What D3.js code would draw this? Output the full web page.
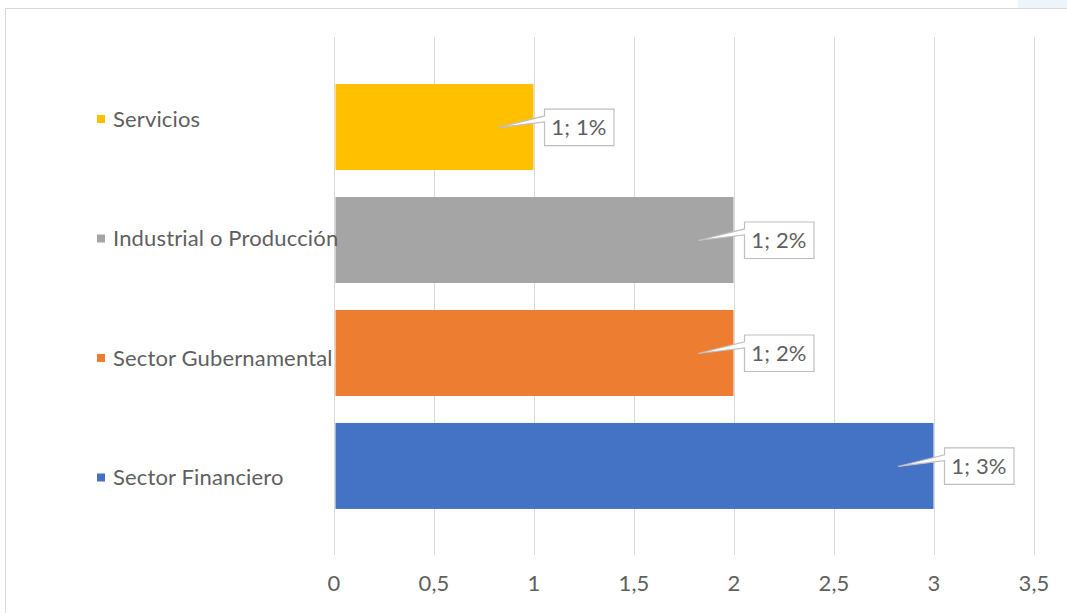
<!DOCTYPE html>
<html>
<head>
<meta charset="utf-8">
<script src="https://cdn.jsdelivr.net/npm/d3@7"></script>
<style>
  body { margin: 0; background: #fff; }
  text { font-family: Lato, "Open Sans", sans-serif; fill: #5f5f5f; letter-spacing: 0.15px; }
</style>
</head>
<body>
<div id="chart"></div>
<script>
// data, top to bottom
var categories = ["Servicios", "Industrial o Producción", "Sector Gubernamental", "Sector Financiero"];
var values = [1, 2, 2, 3];
var labelTexts = ["1; 1%", "1; 2%", "1; 2%", "1; 3%"];
var colors = ["#FFC000", "#A5A5A5", "#ED7D31", "#4472C4"];
var tickValues = [0, 0.5, 1, 1.5, 2, 2.5, 3, 3.5];

var width = 1067, height = 613;
var fontSize = "22px";

var svg = d3.select("#chart").append("svg")
  .attr("width", width)
  .attr("height", height);

// chart frame
svg.append("rect")
  .attr("x", 5.5).attr("y", 8.5)
  .attr("width", 1080).attr("height", 620)
  .attr("fill", "#fff")
  .attr("stroke", "#d9d9d9");
svg.append("rect")
  .attr("x", 1018).attr("y", 0)
  .attr("width", 49).attr("height", 8)
  .attr("fill", "#eef4fb");

var x = d3.scaleLinear().domain([0, 3.5]).range([334, 1034]);
var y = d3.scaleBand().domain(categories)
  .range([70.5, 522.5])
  .paddingInner(0.239)
  .paddingOuter(0.12);
// legend has its own spacing
var yLegend = d3.scalePoint().domain(categories).range([119, 477.5]);

// vertical gridlines
svg.append("g").selectAll("line")
  .data(tickValues)
  .enter().append("line")
  .attr("x1", d => Math.round(x(d)) + 0.5)
  .attr("x2", d => Math.round(x(d)) + 0.5)
  .attr("y1", 37)
  .attr("y2", 555)
  .attr("stroke", "#d9d9d9")
  .attr("stroke-width", 1);

// axis labels
svg.append("g").selectAll("text")
  .data(tickValues)
  .enter().append("text")
  .attr("x", d => x(d))
  .attr("y", 591)
  .attr("text-anchor", "middle")
  .style("font-size", fontSize)
  .text(d => String(d).replace(".", ","));

// bars
svg.append("g").selectAll("rect")
  .data(categories)
  .enter().append("rect")
  .attr("x", x(0) + 1.5)
  .attr("y", d => y(d))
  .attr("width", (d, i) => x(values[i]) - x(0) - 2)
  .attr("height", y.bandwidth())
  .attr("fill", (d, i) => colors[i]);

// legend entries
var legend = svg.append("g").selectAll("g")
  .data(categories)
  .enter().append("g")
  .attr("transform", d => "translate(97," + yLegend(d) + ")");
legend.append("rect")
  .attr("x", 0).attr("y", -4)
  .attr("width", 8).attr("height", 8)
  .attr("fill", (d, i) => colors[i]);
legend.append("text")
  .attr("x", 16)
  .attr("y", 7.5)
  .style("font-size", fontSize)
  .text(d => d);

// callout data labels
var boxW = 70, boxH = 37;
var callout = svg.append("g").selectAll("g")
  .data(categories)
  .enter().append("g")
  .attr("transform", (d, i) => "translate(" + (x(values[i]) + 10) + "," + (y(d) + y.bandwidth() / 2 - boxH / 2) + ")");
callout.append("path")
  .attr("d", function() {
    var tipX = -46, tipY = boxH / 2 + 0.5;
    return "M0.5,0.5 H" + boxW + " V" + boxH + " H0.5 V" + (boxH * 0.36) +
      " L" + tipX + "," + tipY + " L0.5," + (boxH * 0.2) + " Z";
  })
  .attr("fill", "#fff")
  .attr("stroke", "#bfbfbf")
  .attr("stroke-width", 1.2);
callout.append("text")
  .attr("x", boxW / 2)
  .attr("y", boxH / 2 + 8)
  .attr("text-anchor", "middle")
  .style("font-size", fontSize)
  .text((d, i) => labelTexts[i]);
</script>
</body>
</html>
